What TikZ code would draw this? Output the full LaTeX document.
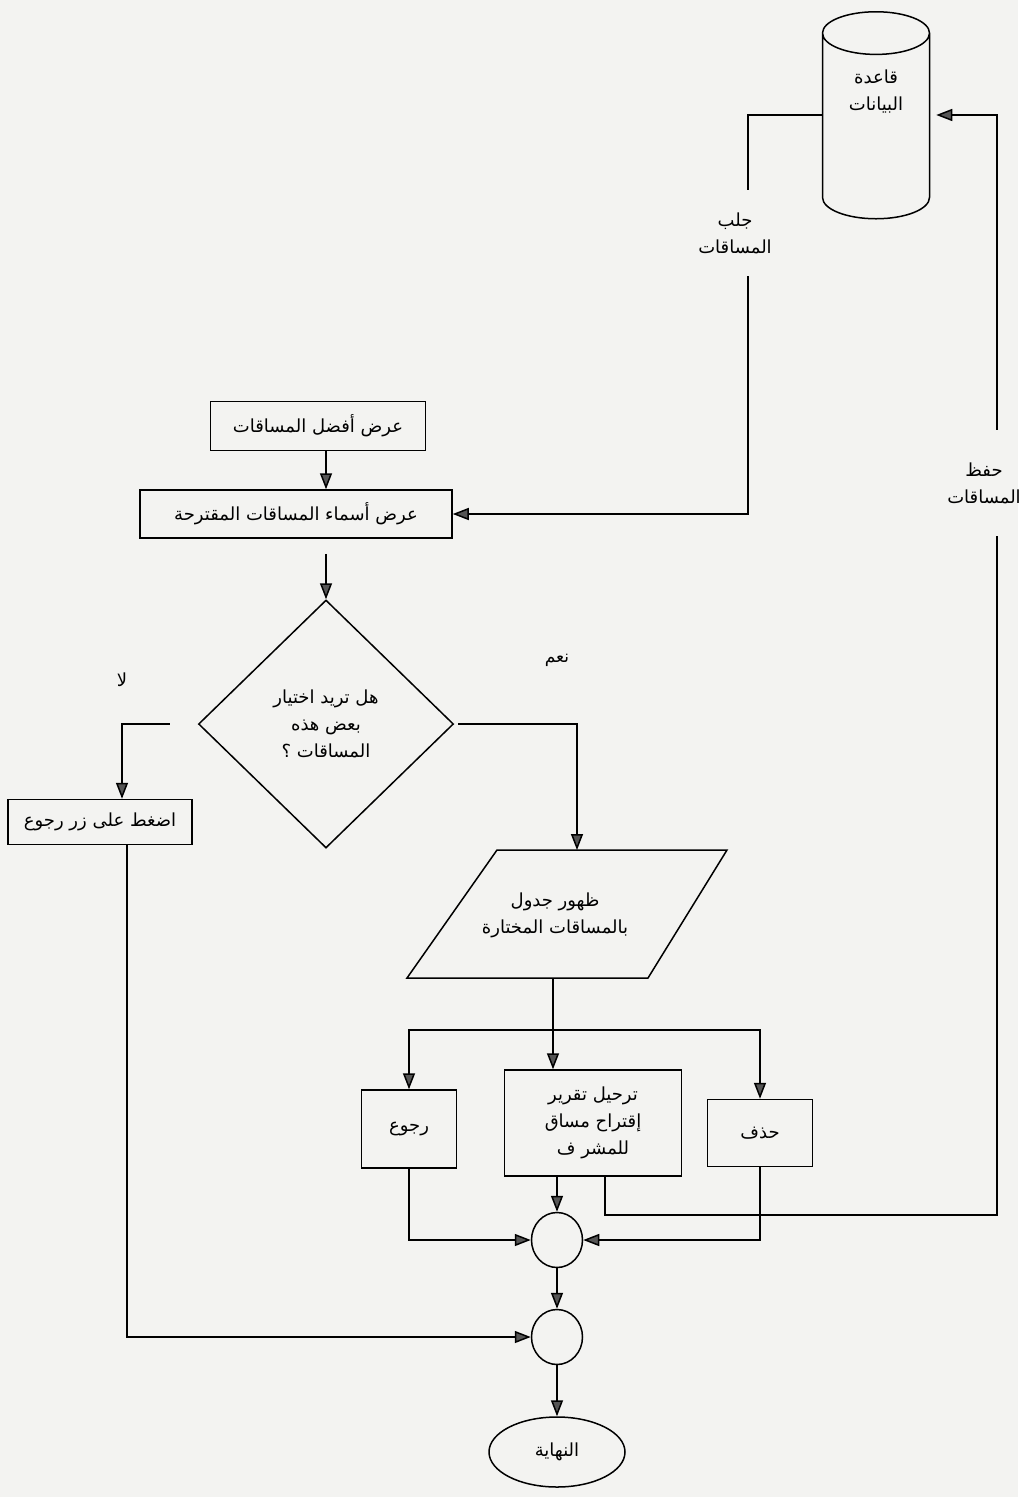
\documentclass[tikz,border=0pt]{standalone}
\usepackage{fontspec}
\usepackage{tikz}
\usetikzlibrary{arrows.meta}
\usetikzlibrary{calc}
\usetikzlibrary{shapes.geometric}
\TeXXeTstate=1
\newfontfamily\arabicfont[Script=Arabic]{DejaVu Sans}
\newcommand{\artxt}[1]{\beginR #1\endR}
\definecolor{paper}{RGB}{243,243,241}
\definecolor{tipgray}{RGB}{85,85,85}

\begin{document}
\begin{tikzpicture}[x=1pt,y=-1pt,line width=1.5pt,
		>={Triangle[length=16pt,width=12pt,fill=tipgray]},
		every node/.style={font=\arabicfont\fontsize{18}{27}\selectfont},
		box/.style={draw,rectangle,inner sep=2pt,align=center},
		joint/.style={draw,ellipse,inner sep=0pt,minimum width=51,minimum height=55},
		lbl/.style={align=center,inner sep=0pt}]
		
		% Paper and frame
		\fill[paper] (0,0) rectangle (1018,1497);
		\useasboundingbox (0,0) rectangle (1018,1497);
		
		% Database
		\node[cylinder,shape border rotate=90,draw,aspect=0.7,
		minimum width=107,minimum height=207,align=center] (db) at (876,130)
		{\artxt{قاعدة}\\\artxt{البيانات}\\[52pt]\mbox{}};
		
		% Main column
		\node[box,minimum width=215,minimum height=49] (best) at (318,426) {\artxt{عرض أفضل المساقات}};
		\node[box,minimum width=312,minimum height=48] (names) at (296,514) {\artxt{عرض أسماء المساقات المقترحة}};
		\node[draw,diamond,minimum width=255,minimum height=248,align=center,inner sep=0pt] (ask) at (326,724)
		{\artxt{هل تريد اختيار}\\\artxt{بعض هذه}\\\artxt{المساقات ؟}};
		\node[box,minimum width=184,minimum height=45] (goback) at (100,822) {\artxt{اضغط على زر رجوع}};
		
		% Table shown (parallelogram)
		\draw (407,978) -- (497,850) -- (727,850) -- (648,978) -- cycle;
		\node[lbl] (show) at (555,915) {\artxt{ظهور جدول}\\\artxt{بالمساقات المختارة}};
		\coordinate (showtop) at (577,850);
		\coordinate (showbot) at (553,978);
		
		% Choices
		\node[box,minimum width=95,minimum height=78] (ret) at (409,1129) {\artxt{رجوع}};
		\node[box,minimum width=177,minimum height=106] (send) at (593,1123)
		{\artxt{ترحيل تقرير}\\\artxt{إقتراح مساق}\\\artxt{للمشر ف}};
		\node[box,minimum width=105,minimum height=67] (del) at (760,1133) {\artxt{حذف}};
		
		% Joins and end
		\node[joint] (j1) at (557,1240) {};
		\node[joint] (j2) at (557,1337) {};
		\node[draw,ellipse,minimum width=136,minimum height=70] (fin) at (557,1452) {\artxt{النهاية}};
		
		% Labels
		\node[lbl,minimum height=85] (fetch) at (735,233) {\artxt{جلب}\\\artxt{المساقات}};
		\node[lbl,minimum height=105] (save) at (984,483) {\artxt{حفظ}\\\artxt{المساقات}};
		\node[lbl] (no) at (122,680) {\artxt{لا}};
		\node[lbl,font=\arabicfont\fontsize{17}{20}\selectfont] (yes) at (557,660) {\artxt{نعم}};
		
		\coordinate (split) at (553,1030);
		\coordinate (savecorner) at (997,1215);
		
		% Flow
		\draw[->] (best.south -| ask.north) -- (names.north -| ask.north);
		\draw[->,shorten <=15pt] (names.south -| ask.north) -- (ask.north);
		\draw[->] ($(ask.west)+(-28,0)$) -| ($(goback.north)+(22,0)$);
		\draw[->] ($(ask.east)+(4,0)$) -| (showtop);
		\draw[->] (showbot) -- (send.north -| split);
		\draw[->] (split) -| (ret.north);
		\draw[->] (split) -| (del.north);
		\draw[->] (send.south -| j1.north) -- (j1.north);
		\draw[->] (ret.south) |- (j1.west);
		\draw[->] (del.south) |- (j1.east);
		\draw[->] (j1.south) -- (j2.north);
		\draw[->] (j2.south) -- (fin.north);
		\draw[->] ($(goback.south)+(27,0)$) |- (j2.west);
		
		% Fetch from and save to the database
		\draw ($(db.west)+(0,-15)$) -| ($(fetch.north)+(13,0)$);
		\draw[->] ($(fetch.south)+(13,0)$) |- (names.east);
		\draw ($(send.south)+(12,0)$) |- (savecorner) -- (save.south -| savecorner);
		\draw[->,shorten >=6pt] (save.north -| savecorner) |- ($(db.east)+(0,-15)$);
		
	\end{tikzpicture}
\end{document}
